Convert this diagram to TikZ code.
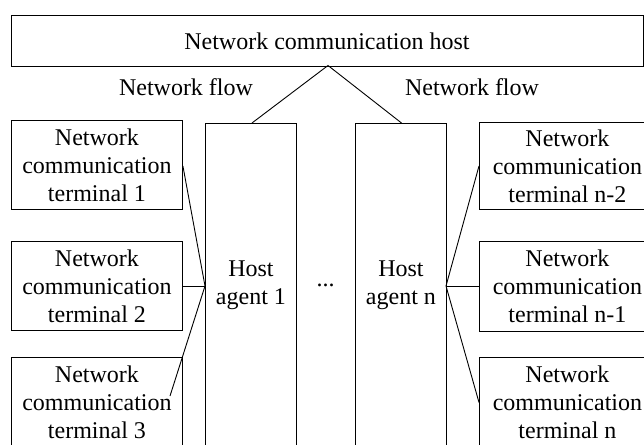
\documentclass[tikz,border=0pt]{standalone}
\usepackage{fontspec}
\setmainfont{Liberation Serif}
\begin{document}
\begin{tikzpicture}[x=1pt,y=-1pt,
  box/.style={draw=black,line width=0.9pt,inner sep=0pt,align=center,anchor=north west,
    font=\fontsize{24}{28}\selectfont},
  lbl/.style={inner sep=0pt,font=\fontsize{24}{28}\selectfont},
  link/.style={line width=0.9pt,draw=black}]
\useasboundingbox (0,0) rectangle (644,444);

% host at the top
\node[box,minimum width=632pt,minimum height=50pt] (host) at (10.5,15.5) {Network communication host};

% terminals on the left
\node[box,minimum width=171pt,minimum height=89pt] (t1) at (11,120) {Network\\communication\\terminal 1};
\node[box,minimum width=171pt,minimum height=89pt] (t2) at (11,241) {Network\\communication\\terminal 2};
\node[box,minimum width=171pt,minimum height=89pt] (t3) at (11,357) {Network\\communication\\terminal 3};

% host agents
\node[box,minimum width=91pt,minimum height=324pt] (a1) at (205,123) {Host\\agent 1};
\node[box,minimum width=91pt,minimum height=324pt] (an) at (355,123) {Host\\agent n};
\node[lbl,anchor=base] (dots) at (325.5,286) {...};

% terminals on the right
\node[box,minimum width=176pt,minimum height=87pt] (r1) at (479,122) {Network\\communication\\terminal n-2};
\node[box,minimum width=176pt,minimum height=90pt] (r2) at (479,241) {Network\\communication\\terminal n-1};
\node[box,minimum width=176pt,minimum height=90pt] (r3) at (479,357) {Network\\communication\\terminal n};

% flow labels
\node[lbl,anchor=base] (fl) at (186,95) {Network flow};
\node[lbl,anchor=base] (fr) at (472,95) {Network flow};

% connectors
\coordinate (apex) at (328,65.5);
\coordinate (a1top) at (252,123);
\coordinate (antop) at (401.5,123);
\draw[link] (a1top) -- (apex) -- (antop);

\coordinate (hubL) at (205,286);
\coordinate (hubR) at (446,286);
\coordinate (t3end) at (170,396);
\draw[link] (t1.east) ++(0,1) -- (hubL);
\draw[link] (t2.east |- hubL) -- (hubL);
\draw[link] (hubL) -- (t3end);

\draw[link] (hubR) -- (r1.west);
\draw[link] (hubR) -- (r2.west |- hubR);
\draw[link] (hubR) -- (r3.west);
\end{tikzpicture}
\end{document}
